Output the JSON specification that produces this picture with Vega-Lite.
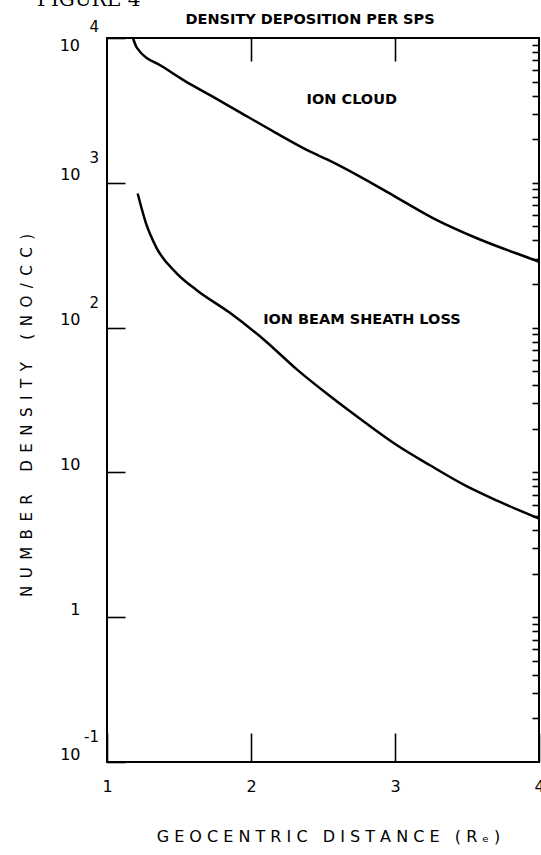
{
  "$schema": "https://vega.github.io/schema/vega-lite/v6.json",
  "width": 432,
  "height": 724,
  "autosize": {"type": "none"},
  "padding": {"left": 107, "top": 38, "right": 2, "bottom": 93},
  "background": "white",
  "config": {
    "view": {"stroke": "black", "strokeWidth": 2},
    "font": "DejaVu Sans",
    "axis": {"domain": false, "grid": false, "tickColor": "black", "tickWidth": 1.6, "labelColor": "black", "titleColor": "black", "labelFont": "DejaVu Sans", "titleFont": "DejaVu Sans"}
  },
  "datasets": {
    "curves": [
      {"curve": "ION CLOUD", "x": 1.18, "n": 10000},
      {"curve": "ION CLOUD", "x": 1.208, "n": 8550},
      {"curve": "ION CLOUD", "x": 1.396, "n": 6250},
      {"curve": "ION CLOUD", "x": 1.534, "n": 5100},
      {"curve": "ION CLOUD", "x": 1.722, "n": 4000},
      {"curve": "ION CLOUD", "x": 1.93, "n": 3040},
      {"curve": "ION CLOUD", "x": 2.16, "n": 2250},
      {"curve": "ION CLOUD", "x": 2.423, "n": 1620},
      {"curve": "ION CLOUD", "x": 2.528, "n": 1450},
      {"curve": "ION CLOUD", "x": 2.763, "n": 1095},
      {"curve": "ION CLOUD", "x": 2.992, "n": 813},
      {"curve": "ION CLOUD", "x": 3.27, "n": 566},
      {"curve": "ION CLOUD", "x": 3.569, "n": 414},
      {"curve": "ION CLOUD", "x": 3.964, "n": 294},
      {"curve": "ION CLOUD", "x": 4.0, "n": 285},
      {"curve": "ION BEAM SHEATH LOSS", "x": 1.213, "n": 843},
      {"curve": "ION BEAM SHEATH LOSS", "x": 1.271, "n": 524},
      {"curve": "ION BEAM SHEATH LOSS", "x": 1.342, "n": 358},
      {"curve": "ION BEAM SHEATH LOSS", "x": 1.482, "n": 238},
      {"curve": "ION BEAM SHEATH LOSS", "x": 1.621, "n": 182},
      {"curve": "ION BEAM SHEATH LOSS", "x": 1.851, "n": 127},
      {"curve": "ION BEAM SHEATH LOSS", "x": 2.088, "n": 82.8},
      {"curve": "ION BEAM SHEATH LOSS", "x": 2.318, "n": 51.5},
      {"curve": "ION BEAM SHEATH LOSS", "x": 2.548, "n": 33.7},
      {"curve": "ION BEAM SHEATH LOSS", "x": 2.785, "n": 22.4},
      {"curve": "ION BEAM SHEATH LOSS", "x": 3.014, "n": 15.4},
      {"curve": "ION BEAM SHEATH LOSS", "x": 3.243, "n": 11.2},
      {"curve": "ION BEAM SHEATH LOSS", "x": 3.48, "n": 8.2},
      {"curve": "ION BEAM SHEATH LOSS", "x": 3.709, "n": 6.38},
      {"curve": "ION BEAM SHEATH LOSS", "x": 4.0, "n": 4.8}
    ],
    "labels": [
      {"label": "ION CLOUD", "x": 2.7, "n": 3715},
      {"label": "ION BEAM SHEATH LOSS", "x": 2.77, "n": 112}
    ],
    "exps": [
      {"v": 1000, "e": "3"},
      {"v": 100, "e": "2"},
      {"v": 0.1, "e": "-1"}
    ],
    "toplabel": [
      {"v": 10000, "t": "10", "e": "4"}
    ],
    "heading": [
      {"x": 2.41, "v": 10000, "t": "DENSITY DEPOSITION PER SPS"}
    ],
    "fig": [
      {"v": 10000, "t": "FIGURE 4"}
    ]
  },
  "layer": [
    {
      "data": {"name": "curves"},
      "mark": {"type": "line", "color": "black", "strokeWidth": 2.5, "interpolate": "monotone"},
      "encoding": {
        "x": {"field": "x", "type": "quantitative", "scale": {"domain": [1, 4], "nice": false, "zero": false},
          "axis": {"orient": "bottom", "values": [1, 2, 3, 4], "format": "d", "tickSize": -29, "labelFontSize": 16, "labelPadding": 45, "labelFlush": false,
            "title": "G E O C E N T R I C\u00a0\u00a0\u00a0D I S T A N C E\u00a0\u00a0\u00a0( R ₑ )", "titleFontSize": 16, "titleFontWeight": "normal", "titleX": 221, "titleY": 66, "titleBaseline": "top", "titleAlign": "center"}},
        "y": {"field": "n", "type": "quantitative", "scale": {"type": "log", "domain": [0.1, 10000], "nice": false},
          "axis": {"orient": "left", "values": [0.1, 1, 10, 100, 1000, 10000], "tickSize": -18, "labelExpr": "datum.value == 1 ? '1' : datum.value == 10000 ? '' : '10'", "labelFontSize": 16, "labelPadding": 45, "labelBaseline": "alphabetic", "labelFlush": false, "labelOffset": -3,
            "title": "N\u2002U\u2002M\u2002B\u2002E\u2002R\u2002\u2002\u2002D\u2002E\u2002N\u2002S\u2002I\u2002T\u2002Y\u2002\u2002\u2002(\u2002N\u2002O\u2002/\u2002C\u2002C\u2002)", "titleFontSize": 15, "titleFontWeight": "normal", "titleAngle": 270, "titleX": -73, "titleY": 377, "titleAlign": "center", "titleBaseline": "bottom"}},
        "detail": {"field": "curve", "type": "nominal"}
      }
    },
    {
      "data": {"name": "labels"},
      "mark": {"type": "text", "fontWeight": "bold", "fontSize": 14.5, "font": "DejaVu Sans", "color": "black"},
      "encoding": {
        "x": {"field": "x", "type": "quantitative", "axis": {"orient": "top", "values": [2, 3], "tickSize": -23, "labels": false, "title": null}},
        "y": {"field": "n", "type": "quantitative", "axis": {"orient": "right", "values": [0.2, 0.3, 0.4, 0.5, 0.6, 0.7, 0.8, 0.9, 1, 2, 3, 4, 5, 6, 7, 8, 9, 10, 20, 30, 40, 50, 60, 70, 80, 90, 100, 200, 300, 400, 500, 600, 700, 800, 900, 1000, 2000, 3000, 4000, 5000, 6000, 7000, 8000, 9000], "tickSize": -7, "labels": false, "title": null}},
        "text": {"field": "label", "type": "nominal"}
      }
    },
    {
      "data": {"name": "exps"},
      "mark": {"type": "text", "fontSize": 15, "align": "right", "baseline": "alphabetic", "dx": -8, "dy": -20, "color": "black"},
      "encoding": {
        "x": {"datum": 1, "type": "quantitative", "axis": null},
        "y": {"field": "v", "type": "quantitative", "axis": null},
        "text": {"field": "e", "type": "nominal"}
      }
    },
    {
      "data": {"name": "toplabel"},
      "mark": {"type": "text", "fontSize": 15, "align": "right", "baseline": "alphabetic", "dx": -8, "dy": -6, "color": "black"},
      "encoding": {
        "x": {"datum": 1, "type": "quantitative", "axis": null},
        "y": {"field": "v", "type": "quantitative", "axis": null},
        "text": {"field": "e", "type": "nominal"}
      }
    },
    {
      "data": {"name": "toplabel"},
      "mark": {"type": "text", "fontSize": 16, "align": "right", "baseline": "top", "dx": -27, "dy": 0, "color": "black"},
      "encoding": {
        "x": {"datum": 1, "type": "quantitative", "axis": null},
        "y": {"field": "v", "type": "quantitative", "axis": null},
        "text": {"field": "t", "type": "nominal"}
      }
    },
    {
      "data": {"name": "heading"},
      "mark": {"type": "text", "fontSize": 14.5, "fontWeight": "bold", "align": "center", "baseline": "alphabetic", "dy": -14, "color": "black"},
      "encoding": {
        "x": {"field": "x", "type": "quantitative", "axis": null},
        "y": {"field": "v", "type": "quantitative", "axis": null},
        "text": {"field": "t", "type": "nominal"}
      }
    },
    {
      "data": {"name": "fig"},
      "mark": {"type": "text", "fontSize": 20, "font": "DejaVu Serif", "align": "left", "baseline": "alphabetic", "dx": -70, "dy": -32, "color": "black"},
      "encoding": {
        "x": {"datum": 1, "type": "quantitative", "axis": null},
        "y": {"field": "v", "type": "quantitative", "axis": null},
        "text": {"field": "t", "type": "nominal"}
      }
    }
  ],
  "resolve": {"axis": {"x": "independent", "y": "independent"}}
}
